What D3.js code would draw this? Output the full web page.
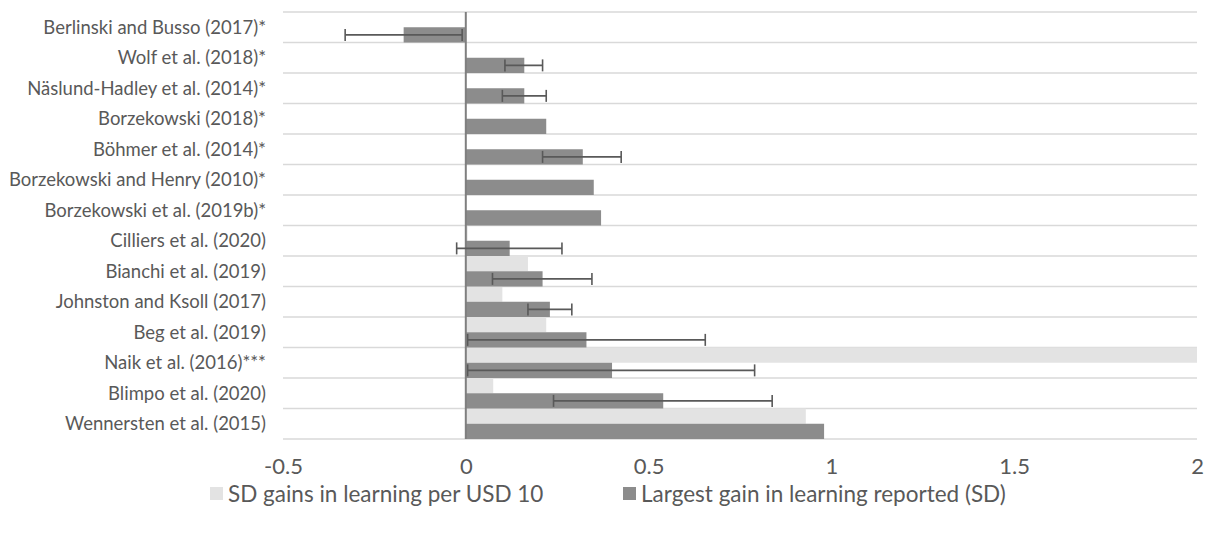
<!DOCTYPE html>
<html>
<head>
<meta charset="utf-8">
<script src="https://cdn.jsdelivr.net/npm/d3@7"></script>
<style>
  html, body { margin: 0; padding: 0; background: #fff; }
  svg { display: block; font-family: Lato, "Open Sans", sans-serif; }
</style>
</head>
<body>
<svg id="chart" width="1206" height="536"></svg>
<script>
// Studies, top to bottom
const studies = [
  "Berlinski and Busso (2017)*",
  "Wolf et al. (2018)*",
  "Näslund-Hadley et al. (2014)*",
  "Borzekowski (2018)*",
  "Böhmer et al. (2014)*",
  "Borzekowski and Henry (2010)*",
  "Borzekowski et al. (2019b)*",
  "Cilliers et al. (2020)",
  "Bianchi et al. (2019)",
  "Johnston and Ksoll (2017)",
  "Beg et al. (2019)",
  "Naik et al. (2016)***",
  "Blimpo et al. (2020)",
  "Wennersten et al. (2015)"
];

// SD gains in learning per USD 10 (null = not reported)
const gainsPerUSD10 = [null, null, null, null, null, null, null, 0.005, 0.17, 0.10, 0.22, 2.0, 0.075, 0.93];

// Largest gain in learning reported (SD)
const largestGain = [-0.17, 0.16, 0.16, 0.22, 0.32, 0.35, 0.37, 0.12, 0.21, 0.23, 0.33, 0.40, 0.54, 0.98];

// Confidence interval bounds for the largest gain (null = none shown)
const ciLow  = [-0.33, 0.107, 0.10, null, 0.21, null, null, -0.025, 0.073, 0.17, 0.005, 0.005, 0.24, null];
const ciHigh = [-0.01, 0.21, 0.22, null, 0.425, null, null, 0.263, 0.345, 0.29, 0.655, 0.79, 0.838, null];

const xTicks = [-0.5, 0, 0.5, 1, 1.5, 2];
const xTickLabels = ["-0.5", "0", "0.5", "1", "1.5", "2"];

const seriesNames = ["SD gains in learning per USD 10", "Largest gain in learning reported (SD)"];
const seriesColors = ["#e3e3e3", "#8c8c8c"];

const svg = d3.select("#chart");
const textColor = "#595959";

const x = d3.scaleLinear().domain([-0.5, 2]).range([283, 1197]);
const y = d3.scaleBand().domain(studies).range([12, 439]).padding(0);
const half = y.bandwidth() / 2;

// Horizontal gridlines at category boundaries
const boundaries = studies.map(s => y(s)).concat([y.range()[1]]);
svg.append("g").selectAll("line").data(boundaries).join("line")
  .attr("x1", x.range()[0]).attr("x2", x.range()[1])
  .attr("y1", d => d).attr("y2", d => d)
  .attr("stroke", "#d9d9d9").attr("stroke-width", 1.5);

const rows = studies.map((s, i) => ({
  s, a: gainsPerUSD10[i], b: largestGain[i], lo: ciLow[i], hi: ciHigh[i]
}));

const clampX = v => x(Math.max(-0.5, Math.min(2, v)));

// Gains per USD 10 (upper half of each row)
svg.append("g").selectAll("rect").data(rows.filter(r => r.a !== null)).join("rect")
  .attr("x", r => Math.min(x(0), clampX(r.a)))
  .attr("width", r => Math.abs(clampX(r.a) - x(0)))
  .attr("y", r => y(r.s))
  .attr("height", half)
  .attr("fill", seriesColors[0]);

// Largest gain (lower half of each row)
svg.append("g").selectAll("rect").data(rows).join("rect")
  .attr("x", r => Math.min(x(0), clampX(r.b)))
  .attr("width", r => Math.abs(clampX(r.b) - x(0)))
  .attr("y", r => y(r.s) + half)
  .attr("height", half)
  .attr("fill", seriesColors[1]);

// Vertical axis line at zero
svg.append("line")
  .attr("x1", x(0)).attr("x2", x(0))
  .attr("y1", y.range()[0]).attr("y2", y.range()[1])
  .attr("stroke", "#7f7f7f").attr("stroke-width", 2);

// Error bars on the largest gain
const eb = svg.append("g").attr("stroke", "#595959").attr("stroke-width", 1.6).attr("fill", "none");
rows.filter(r => r.lo !== null).forEach(r => {
  const cy = y(r.s) + half * 1.5;
  eb.append("line").attr("x1", x(r.lo)).attr("x2", x(r.hi)).attr("y1", cy).attr("y2", cy);
  [r.lo, r.hi].forEach(v => {
    eb.append("line").attr("x1", x(v)).attr("x2", x(v)).attr("y1", cy - 6).attr("y2", cy + 6);
  });
});

// Category labels
svg.append("g").selectAll("text").data(studies).join("text")
  .attr("x", 266)
  .attr("y", d => y(d) + y.bandwidth() / 2)
  .attr("dy", "0.35em")
  .attr("text-anchor", "end")
  .attr("font-size", 18.5)
  .attr("fill", textColor)
  .text(d => d);

// X axis tick labels
const xAxis = d3.axisBottom(x).tickValues(xTicks).tickSize(0).tickPadding(0)
  .tickFormat((d, i) => xTickLabels[i]);
const gx = svg.append("g").attr("transform", "translate(0,458)").call(xAxis);
gx.select(".domain").remove();
gx.selectAll("text").attr("font-size", 22).attr("fill", textColor)
  .attr("font-family", "Lato, 'Open Sans', sans-serif");

// Legend
const legendItems = [
  { name: seriesNames[0], color: seriesColors[0], x: 210 },
  { name: seriesNames[1], color: seriesColors[1], x: 623 }
];
const lg = svg.append("g");
legendItems.forEach(it => {
  lg.append("rect").attr("x", it.x).attr("y", 487).attr("width", 13).attr("height", 13).attr("fill", it.color);
  lg.append("text").attr("x", it.x + 18).attr("y", 494).attr("dy", "0.35em")
    .attr("font-size", 22.5).attr("fill", textColor).text(it.name);
});
</script>
</body>
</html>
